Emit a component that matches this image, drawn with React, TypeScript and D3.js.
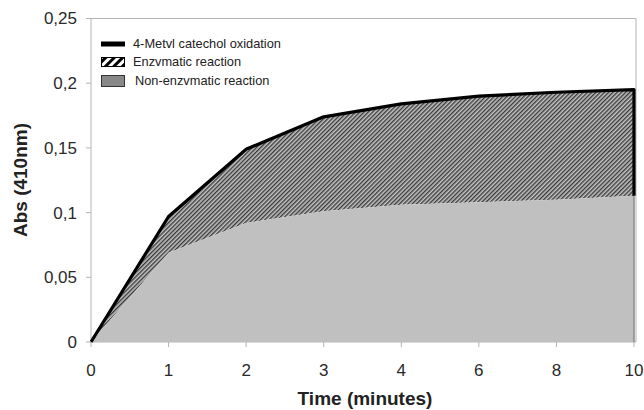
import React, { useRef, useEffect } from "react";
import * as d3 from "d3";

// x categories (minutes) - evenly spaced in the original chart
const times = ["0", "1", "2", "3", "4", "6", "8", "10"];
// total 4-methyl catechol oxidation (top line)
const totalAbs = [0, 0.097, 0.149, 0.174, 0.184, 0.19, 0.193, 0.195];
// non-enzymatic part (bottom area)
const nonEnzAbs = [0, 0.069, 0.092, 0.101, 0.106, 0.108, 0.11, 0.113];
const yTicks = [0, 0.05, 0.1, 0.15, 0.2, 0.25];
const yTickLabels = ["0", "0,05", "0,1", "0,15", "0,2", "0,25"];
const legendLabels = ["4-Metvl catechol oxidation", "Enzvmatic reaction", "Non-enzvmatic reaction"];

const W = 644;
const H = 410;
const margin = { left: 91, right: 8, top: 18.5, bottom: 68 };
const FONT = "'Liberation Sans', Arial, sans-serif";

function AbsChart() {
  const svgRef = useRef<SVGSVGElement>(null);

  useEffect(() => {
    const svg = d3.select(svgRef.current);
    svg.selectAll("*").remove();

    const x = d3.scalePoint<string>().domain(times).range([margin.left, 634]);
    const y = d3.scaleLinear().domain([0, 0.25]).range([H - margin.bottom, margin.top]);

    // patterns
    const defs = svg.append("defs");
    const fine = defs
      .append("pattern")
      .attr("id", "hatchFine")
      .attr("patternUnits", "userSpaceOnUse")
      .attr("width", 3)
      .attr("height", 3)
      .attr("patternTransform", "rotate(45)");
    fine.append("rect").attr("width", 3).attr("height", 3).attr("fill", "#c4c4c4");
    fine.append("rect").attr("width", 1.4).attr("height", 3).attr("fill", "#3a3a3a");

    const big = defs
      .append("pattern")
      .attr("id", "hatchBig")
      .attr("patternUnits", "userSpaceOnUse")
      .attr("width", 6)
      .attr("height", 6)
      .attr("patternTransform", "rotate(45)");
    big.append("rect").attr("width", 6).attr("height", 6).attr("fill", "#fff");
    big.append("rect").attr("width", 3).attr("height", 6).attr("fill", "#000");

    const x0 = margin.left;
    const x1 = 636;
    const y0 = y(0);
    const yTop = y(0.25);

    // frame (light gray)
    svg
      .append("path")
      .attr("d", `M${x0},${y0}V${yTop}H${x1}V${y0}Z`)
      .attr("fill", "none")
      .attr("stroke", "#b4b4b4")
      .attr("stroke-width", 1);

    // enzymatic (hatched) area between lines
    const band = d3
      .area<number>()
      .x((d, i) => x(times[i])!)
      .y0((d, i) => y(nonEnzAbs[i]))
      .y1((d) => y(d));
    svg.append("path").datum(totalAbs).attr("d", band).attr("fill", "url(#hatchFine)");

    // non-enzymatic area
    const lower = d3
      .area<number>()
      .x((d, i) => x(times[i])!)
      .y0(y0)
      .y1((d) => y(d));
    svg.append("path").datum(nonEnzAbs).attr("d", lower).attr("fill", "#c0c0c0");
    svg
      .append("line")
      .attr("x1", x(times[times.length - 1])!)
      .attr("x2", x(times[times.length - 1])!)
      .attr("y1", y(nonEnzAbs[nonEnzAbs.length - 1]))
      .attr("y2", y0)
      .attr("stroke", "#888")
      .attr("stroke-width", 1.5);

    // top line + right edge of hatched band
    const last = times.length - 1;
    const line = d3
      .line<number>()
      .x((d, i) => x(times[i])!)
      .y((d) => y(d));
    svg
      .append("path")
      .attr("d", line(totalAbs) + `L${x(times[last])},${y(nonEnzAbs[last])}`)
      .attr("fill", "none")
      .attr("stroke", "#000")
      .attr("stroke-width", 3.2)
      .attr("stroke-linejoin", "round");

    // y axis ticks + labels
    const yAxis = svg.append("g");
    yTicks.forEach((t, i) => {
      yAxis
        .append("line")
        .attr("x1", x0 - 5)
        .attr("x2", x0)
        .attr("y1", y(t))
        .attr("y2", y(t))
        .attr("stroke", "#b4b4b4");
      yAxis
        .append("text")
        .attr("x", 77)
        .attr("y", y(t))
        .attr("dy", "0.35em")
        .attr("text-anchor", "end")
        .attr("font-family", FONT)
        .attr("font-size", 17)
        .attr("fill", "#2a2a2a")
        .text(yTickLabels[i]);
    });

    // x axis ticks + labels
    const xAxis = svg.append("g");
    times.forEach((t) => {
      xAxis
        .append("line")
        .attr("x1", x(t)!)
        .attr("x2", x(t)!)
        .attr("y1", y0)
        .attr("y2", y0 + 5)
        .attr("stroke", "#b4b4b4");
      xAxis
        .append("text")
        .attr("x", x(t)!)
        .attr("y", 376)
        .attr("text-anchor", "middle")
        .attr("font-family", FONT)
        .attr("font-size", 17)
        .attr("fill", "#2a2a2a")
        .text(t);
    });

    // titles
    svg
      .append("text")
      .attr("x", 365)
      .attr("y", 405)
      .attr("text-anchor", "middle")
      .attr("font-family", FONT)
      .attr("font-size", 19)
      .attr("font-weight", "bold")
      .attr("fill", "#222")
      .text("Time (minutes)");
    svg
      .append("text")
      .attr("transform", `translate(27,180) rotate(-90)`)
      .attr("text-anchor", "middle")
      .attr("font-family", FONT)
      .attr("font-size", 19)
      .attr("font-weight", "bold")
      .attr("fill", "#222")
      .text("Abs (410nm)");

    // legend
    const lg = svg.append("g");
    const lx = 101;
    const rows = [44, 62, 81];
    lg.append("rect").attr("x", lx).attr("y", rows[0] - 2.5).attr("width", 24).attr("height", 5).attr("fill", "#000");
    lg.append("rect")
      .attr("x", lx + 0.5)
      .attr("y", rows[1] - 4.5)
      .attr("width", 23)
      .attr("height", 9)
      .attr("fill", "url(#hatchBig)")
      .attr("stroke", "#000");
    lg.append("rect")
      .attr("x", lx + 0.5)
      .attr("y", rows[2] - 5.5)
      .attr("width", 23)
      .attr("height", 11)
      .attr("fill", "#888")
      .attr("stroke", "#333");
    legendLabels.forEach((l, i) => {
      lg.append("text")
        .attr("x", i === 2 ? 135 : 133)
        .attr("y", rows[i])
        .attr("dy", "0.35em")
        .attr("font-family", FONT)
        .attr("font-size", 12.8)
        .attr("fill", "#222")
        .text(l);
    });
  }, []);

  return (
    <svg
      ref={svgRef}
      width={W}
      height={H}
      style={{ position: "absolute", left: 0, top: 0, background: "#fff", display: "block" }}
    />
  );
}

export default function App() {
  return <AbsChart />;
}
